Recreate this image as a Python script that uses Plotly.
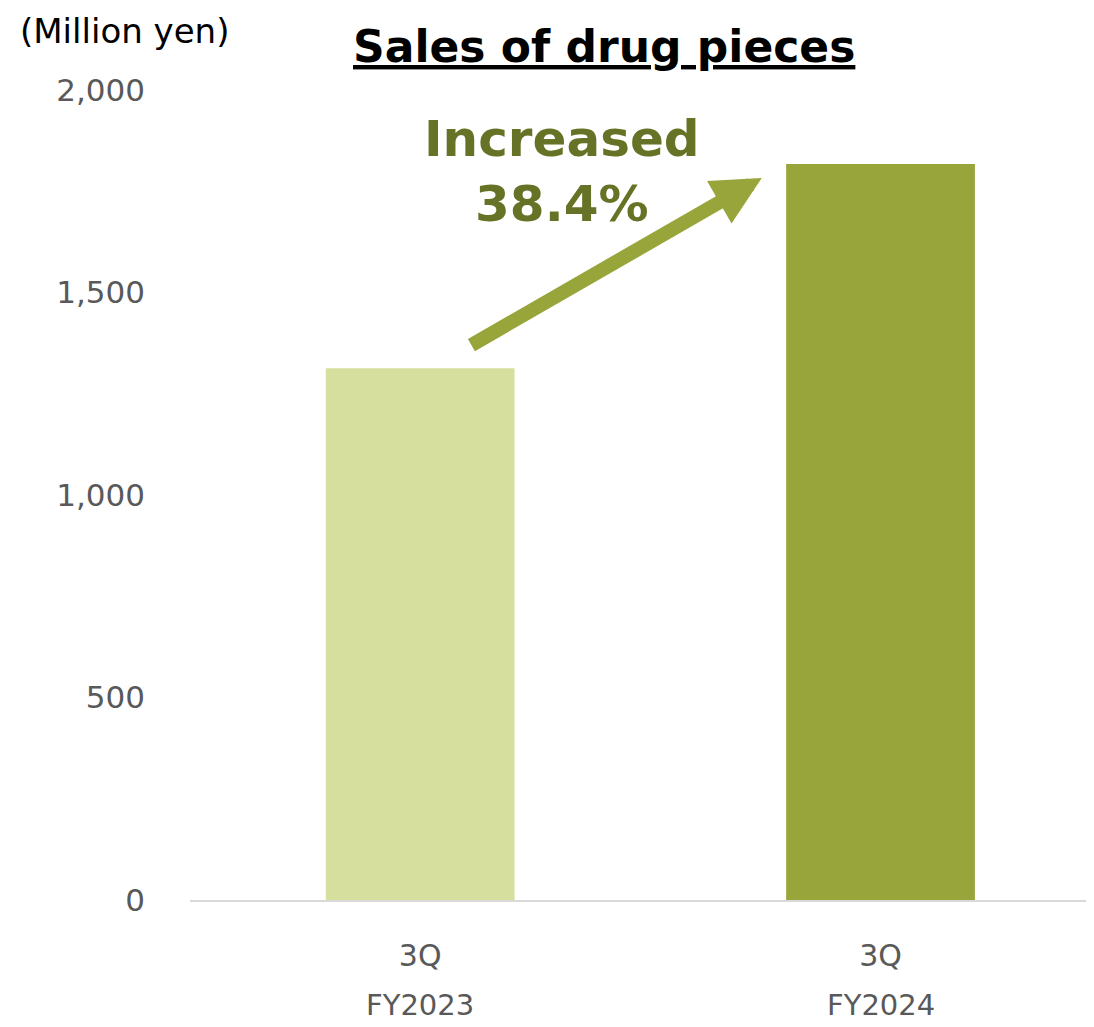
import plotly.graph_objects as go

fiscal_years = ["FY2023", "FY2024"]
quarters = ["3Q", "3Q"]
sales = [1313, 1817]
bar_colors = ["#D6DF9E", "#98A53A"]
y_ticks = [0, 500, 1000, 1500, 2000]
y_tick_text = ["0", "500", "1,000", "1,500", "2,000"]
title_text = "<u><b>Sales of drug pieces</b></u>"
unit_text = "(Million yen)"
growth_text = "<b>Increased<br>38.4%</b>"

FONT = "DejaVu Sans"

fig = go.Figure()
fig.add_trace(go.Bar(
    x=fiscal_years, y=sales, marker=dict(color=bar_colors, line=dict(width=0)),
    width=0.41, showlegend=False, hoverinfo="skip",
))

fig.update_layout(
    width=1086, height=1019,
    margin=dict(l=182, r=4, t=82, b=127),
    paper_bgcolor="white", plot_bgcolor="white",
    font=dict(family=FONT, size=29, color="#595959"),
    xaxis=dict(range=[-0.5, 1.455], showline=True, linecolor="#D9D9D9", linewidth=2,
               showgrid=False, ticks="", ticklabelstandoff=28,
               tickvals=fiscal_years, ticktext=quarters,
               tickfont=dict(size=30, color="#595959")),
    yaxis=dict(range=[0, 2000], tickvals=y_ticks, ticktext=y_tick_text,
               showgrid=False, zeroline=False, showline=False, ticks="",
               ticklabelstandoff=44, tickfont=dict(size=31, color="#595959")),
)

for fy in fiscal_years:
    fig.add_annotation(x=fy, y=(900 - 1005) / 810, xref="x", yref="paper", text=fy,
                       showarrow=False, font=dict(family=FONT, size=29, color="#595959"),
                       xanchor="center", yanchor="middle")

# arrow
fig.add_annotation(x=0.742, y=1783, ax=0.108, ay=1368, xref="x", yref="y",
                   axref="x", ayref="y", text="", showarrow=True,
                   arrowhead=2, arrowsize=0.7, arrowwidth=14, arrowcolor="#98A53A",
                   standoff=0, startstandoff=0)
fig.add_annotation(x=0.307, y=(900 - 171.5) / 0.405, xref="x", yref="y", text=growth_text,
                   showarrow=False, font=dict(family=FONT, size=50, color="#667326"),
                   align="center", yanchor="middle")
fig.add_annotation(x=0.46, y=(900 - 47) / 810, xref="paper", yref="paper", text=title_text,
                   showarrow=False, font=dict(family=FONT, size=44, color="black"),
                   xanchor="center", yanchor="middle")
fig.add_annotation(x=-0.191, y=(900 - 9) / 810, xref="paper", yref="paper", text=unit_text,
                   showarrow=False, font=dict(family=FONT, size=34, color="black"),
                   xanchor="left", yanchor="top")

fig.write_html("out.html")
